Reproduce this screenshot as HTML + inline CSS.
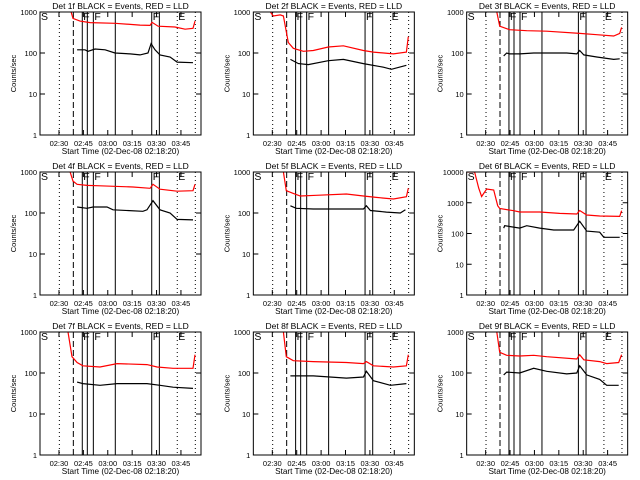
<!DOCTYPE html>
<html><head><meta charset="utf-8"><style>
html,body{margin:0;padding:0;background:#fff;}
svg{display:block;font-family:"Liberation Sans",sans-serif;}
</style></head><body>
<svg id="chart" width="640" height="480" viewBox="0 0 640 480"></svg>
<script>
// minutes since start (02:18:20)
const tMax = 99;
const tickMinutes = [11.67, 26.67, 41.67, 56.67, 71.67, 86.67];
const tickLabels = ["02:30","02:45","03:00","03:15","03:30","03:45"];
const dottedMarks = [11.9, 84.4, 95.5];
const dashedMarks = [20.5];
const solidMarks = [26, 29.1, 32.8, 46.3, 68.7, 73.4];
const flagLabels = ["S","F","F","F","E"];
const flagTimes = [0, 26, 32.8, 68.7, 84.4];
const detNames = ["1f","2f","3f","4f","5f","6f","7f","8f","9f"];
const decades = [3,3,3,3,3,4,3,3,3];

const redT1=[19.1,20.3,24.6,30.8,46.1,61.5,67.7,68.9,72.6,83,89.2,94.1,95.3];
const redV1=[1000,700,600,550,530,480,470,560,450,430,380,400,600];
const blkT1=[22.8,27.7,29.5,33.8,40,46.1,55.4,61.5,66.4,68.3,70.7,73.8,80,84.3,94.1];
const blkV1=[120,120,110,125,120,100,95,90,100,170,120,90,80,60,58];

const redT2=[10.5,12.3,16.6,18.5,21.5,24.6,30.8,36.9,46.1,55.4,67.7,73.8,86.1,94.1,95.3];
const redV2=[1000,800,850,800,180,130,110,115,140,150,115,105,95,105,250];
const blkT2=[22.8,27.7,33.8,46.1,55.4,67.7,80,84.9,94.1];
const blkV2=[70,55,52,65,70,55,45,40,50];

const redT3=[18.5,20.3,26.4,36.9,49.2,69.5,80,90.4,94.1,95.3];
const redV3=[1000,450,370,350,340,300,280,260,300,420];
const blkT3=[22.8,24.6,26.4,32.6,41.2,61.5,67.7,69.5,72,80,90.4,94.1];
const blkV3=[85,100,95,95,100,100,95,115,90,80,70,72];

const redT4=[18.5,20.3,22.8,28.9,36.9,57.2,67.7,69.5,73.8,84.3,94.1,95.3];
const redV4=[1000,600,500,470,460,430,400,500,380,340,350,500];
const blkT4=[22.8,28.9,32.6,41.2,44.9,63.3,65.8,69.5,73.8,80,84.3,94.1];
const blkV4=[140,130,140,140,120,110,120,200,120,100,70,68];

const redT5=[18.5,20.3,24.6,28.9,38.7,57.2,67.7,75.6,86.1,94.1,95.3];
const redV5=[1000,350,300,260,270,290,260,240,220,250,400];
const blkT5=[22.8,26.4,36.9,67.7,69.5,72,81.8,90.4,93.5];
const blkV5=[150,130,125,125,150,115,105,100,120];

const redT6=[0,4.9,7.4,9.2,12.3,16.6,19.1,20.3,28.9,32.6,44.9,57.2,67.7,69.5,73.8,81.8,94.1,95.3];
const redV6=[10000,10000,3000,1600,2800,2600,800,650,550,500,500,450,430,560,400,370,360,550];
const blkT6=[22.8,23.4,32.6,36.9,44.9,53.5,61.5,65.8,69.5,73.8,81.8,84.3,94.1];
const blkV6=[150,180,150,180,150,130,130,130,250,120,110,75,75];

const redT7=[17.2,19.7,22.8,26.4,36.9,47.4,65.8,72,81.8,94.1,95.3];
const redV7=[1000,250,180,150,140,170,160,140,130,130,280];
const blkT7=[22.8,26.4,36.9,47.4,65.8,73.8,81.8,94.1];
const blkV7=[60,55,50,55,55,50,45,42];

const redT8=[18.5,20.3,24.6,36.9,57.2,67.7,69.5,73.8,86.1,94.1,95.3];
const redV8=[1000,250,200,190,180,170,190,150,140,150,280];
const blkT8=[22.8,36.9,57.2,67.7,69.5,73.8,84.3,94.1];
const blkV8=[85,85,75,80,110,65,50,55];

const redT9=[18.5,20.3,24.6,32.6,41.2,49.2,67.7,69.5,72,81.8,86.1,93.5,95.3];
const redV9=[1000,320,270,260,270,250,220,280,210,190,170,180,280];
const blkT9=[22.8,24.6,32.6,41.2,49.2,61.5,67.7,69.5,73.8,81.8,86.1,93.5];
const blkV9=[90,105,100,130,110,95,100,150,90,70,50,50];

const redTs=[redT1,redT2,redT3,redT4,redT5,redT6,redT7,redT8,redT9];
const redVs=[redV1,redV2,redV3,redV4,redV5,redV6,redV7,redV8,redV9];
const blkTs=[blkT1,blkT2,blkT3,blkT4,blkT5,blkT6,blkT7,blkT8,blkT9];
const blkVs=[blkV1,blkV2,blkV3,blkV4,blkV5,blkV6,blkV7,blkV8,blkV9];

const NS="http://www.w3.org/2000/svg";
const svg=document.getElementById('chart');
function mk(tag,attrs,parent,text){const e=document.createElementNS(NS,tag);for(const k in attrs)e.setAttribute(k,attrs[k]);if(text!==undefined)e.textContent=text;(parent||svg).appendChild(e);return e;}

for(let p=0;p<9;p++){
  const ox=(p%3)*640/3, oy=Math.floor(p/3)*160;
  const L=ox+40,R=ox+201,T=oy+12,B=oy+135;
  const dec=decades[p];
  const xS=t=>L+(t/tMax)*(R-L);
  const yS=v=>B-Math.log10(v)/dec*(B-T);
  const g=mk('g',{},svg);
  
  
  const cp=mk('clipPath',{id:'cp'+p},g);
  mk('rect',{x:L,y:T,width:R-L,height:B-T},cp);
  const title=mk('text',{x:(L+R)/2,y:oy+9,'text-anchor':'middle','font-size':'8.5'},g,'Det '+detNames[p]+' BLACK = Events, RED = LLD');
  
  
  const yl=mk('text',{x:0,y:0,'text-anchor':'middle','font-size':'7.5',transform:`translate(${ox+16},${(T+B)/2}) rotate(-90)`},g,'Counts/sec');
  
  
  const xl=mk('text',{x:(L+R)/2,y:oy+154,'text-anchor':'middle','font-size':'8.2'},g,'Start Time (02-Dec-08 02:18:20)');
  
  
  for(let d=0;d<=dec;d++){
    const v=Math.pow(10,d),y=yS(v);
    mk('line',{x1:L,x2:L+5,y1:y,y2:y,stroke:'#000'},g);
    mk('line',{x1:R-5,x2:R,y1:y,y2:y,stroke:'#000'},g);
    const tl=mk('text',{x:L-3,y:y+3,'text-anchor':'end','font-size':'7.5'},g,String(v));
    
    
  }
  for(let i=0;i<tickMinutes.length;i++){
    const x=xS(tickMinutes[i]);
    mk('line',{x1:x,x2:x,y1:B,y2:B-5,stroke:'#000'},g);
    mk('line',{x1:x,x2:x,y1:T,y2:T+5,stroke:'#000'},g);
    const tl=mk('text',{x:x,y:oy+146,'text-anchor':'middle','font-size':'7.5'},g,tickLabels[i]);
    
    
  }
  dottedMarks.forEach(t=>mk('line',{x1:xS(t),x2:xS(t),y1:T,y2:B,stroke:'#000','stroke-dasharray':'1 3'},g));
  dashedMarks.forEach(t=>mk('line',{x1:xS(t),x2:xS(t),y1:T,y2:B,stroke:'#000','stroke-dasharray':'6 3'},g));
  solidMarks.forEach(t=>mk('line',{x1:xS(t),x2:xS(t),y1:T,y2:B,stroke:'#000'},g));
  for(let i=0;i<flagLabels.length;i++){
    const f=mk('text',{x:xS(flagTimes[i])+1,y:T+8,'font-size':'10.5'},g,flagLabels[i]);
    
    
  }
  const toPts=(ts,vs)=>ts.map((t,i)=>xS(t).toFixed(1)+','+yS(vs[i]).toFixed(1)).join(' ');
  const red=mk('polyline',{points:toPts(redTs[p],redVs[p]),fill:'none',stroke:'#ff0000','stroke-width':'1.2','clip-path':`url(#cp${p})`},g);
  
  
  const blk=mk('polyline',{points:toPts(blkTs[p],blkVs[p]),fill:'none',stroke:'#000','stroke-width':'1.2','clip-path':`url(#cp${p})`},g);
  
  
  const fr=mk('rect',{x:L,y:T,width:R-L,height:B-T,fill:'none',stroke:'#000'},g);
  
  
}
</script>
</body></html>
